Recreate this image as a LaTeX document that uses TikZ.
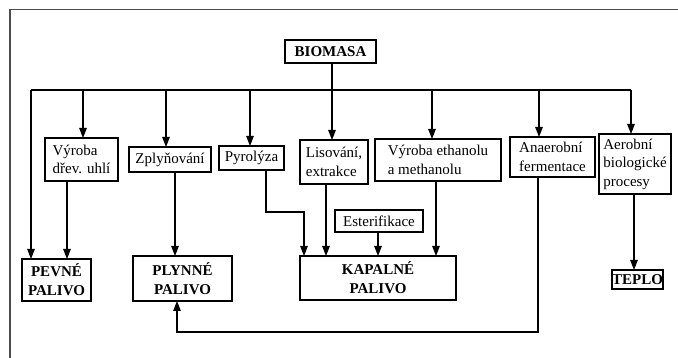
\documentclass[tikz,border=0pt]{standalone}
\usepackage{fontspec}
\setmainfont{Liberation Serif}
\usetikzlibrary{arrows.meta}
\begin{document}
\begin{tikzpicture}[x=1pt,y=-1pt,
  every node/.style={font=\fontsize{15}{18.5}\selectfont, inner sep=0pt, outer sep=0pt},
  box/.style={draw, line width=1.2pt, align=left},
  bbox/.style={draw, line width=2pt, align=center, font=\fontsize{15}{19}\selectfont\bfseries},
  conn/.style={line width=1.3pt},
  arr/.style={line width=1.3pt, -{Triangle[length=10pt,width=7.5pt]}},
  frame/.style={line width=1.3pt, black!70}]
\useasboundingbox (0,0) rectangle (678,358);
% frame
\draw[frame] (10,358) -- (10,9.5) -- (678,9.5);
% nodes
\node[bbox, minimum width=91pt, minimum height=23pt] (bio) at (330.5,51.5) {BIOMASA};
\node[box, minimum width=73pt, minimum height=43pt] (vyr) at (81.5,159.5) {Výroba\\dřev. uhlí};
\node[box, minimum width=82pt, minimum height=25pt] (zpl) at (170,159.5) {Zplyňování};
\node[box, minimum width=65pt, minimum height=24pt] (pyr) at (251.5,158) {Pyrolýza};
\node[box, minimum width=68pt, minimum height=44pt] (lis) at (334,162) {Lisování,\\extrakce};
\node[box, minimum width=126pt, minimum height=42pt] (eth) at (438,160) {Výroba ethanolu\\a methanolu};
\node[box, minimum width=85pt, minimum height=40pt] (ana) at (552.5,157) {Anaerobní\\fermentace};
\node[box, minimum width=72pt, minimum height=60pt] (aer) at (635,164) {Aerobní\\biologické\\procesy};
\node[box, minimum width=88pt, minimum height=22pt] (est) at (379,221) {Esterifikace};
\node[bbox, minimum width=69pt, minimum height=42pt] (pev) at (56.5,280) {PEVNÉ\\PALIVO};
\node[bbox, minimum width=99pt, minimum height=45pt] (ply) at (182.5,278.5) {PLYNNÉ\\PALIVO};
\node[bbox, minimum width=156pt, minimum height=44pt] (kap) at (378,278) {KAPALNÉ\\PALIVO};
\node[bbox, minimum width=51pt, minimum height=19pt] (tep) at (637.5,279.5) {TEPLO};
% bus
\coordinate (busL) at (31,90);
\coordinate (busR) at (631,90);
\draw[conn] (busL) -- (busR);
\coordinate (dB) at (332,0);
\draw[arr] (dB |- bio.south) -- (dB |- lis.north);
\coordinate (d1) at (83,90);
\coordinate (d2) at (166,90);
\coordinate (d3) at (250,90);
\coordinate (d5) at (432,90);
\coordinate (d6) at (539,90);
\draw[arr] (busL) -- (busL |- pev.north);
\draw[arr] (d1) -- (d1 |- vyr.north);
\draw[arr] (d2) -- (d2 |- zpl.north);
\draw[arr] (d3) -- (d3 |- pyr.north);
\draw[arr] (d5) -- (d5 |- eth.north);
\draw[arr] (d6) -- (d6 |- ana.north);
\draw[arr] (busR) -- (busR |- aer.north);
% lower connectors
\coordinate (u1) at (67,0);
\draw[arr] (u1 |- vyr.south) -- (u1 |- pev.north);
\coordinate (u2) at (175,0);
\draw[arr] (u2 |- zpl.south) -- (u2 |- ply.north);
\coordinate (u3) at (266,212);
\coordinate (u3b) at (304,212);
\draw[arr] (u3 |- pyr.south) -- (u3) -- (u3b) -- (u3b |- kap.north);
\coordinate (u4) at (326,0);
\draw[arr] (u4 |- lis.south) -- (u4 |- kap.north);
\coordinate (u5) at (378,0);
\draw[arr] (u5 |- est.south) -- (u5 |- kap.north);
\coordinate (u6) at (436,0);
\draw[arr] (u6 |- eth.south) -- (u6 |- kap.north);
\coordinate (u7) at (538,332);
\coordinate (u7b) at (177,332);
\draw[arr] (u7 |- ana.south) -- (u7) -- (u7b) -- (u7b |- ply.south);
\coordinate (u8) at (634,0);
\draw[arr] (u8 |- aer.south) -- (u8 |- tep.north);
\end{tikzpicture}
\end{document}
